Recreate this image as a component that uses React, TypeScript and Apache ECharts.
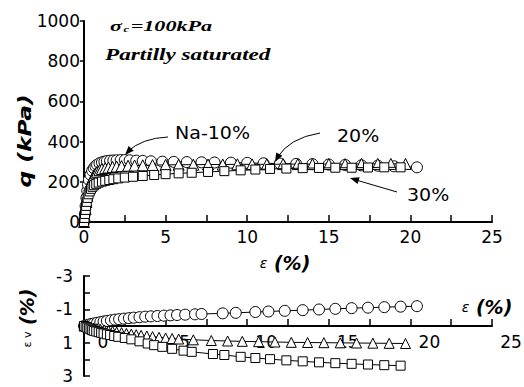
import React, { useEffect, useRef } from "react";
import * as echarts from "echarts";

// ---- Data: deviator stress q (kPa) vs axial strain ε (%) ----
const qNa10: number[][] = [
  [0, 0], [0.05, 40], [0.1, 80], [0.15, 120], [0.2, 155], [0.25, 185], [0.3, 210], [0.4, 235],
  [0.5, 255], [0.6, 268], [0.7, 278], [0.8, 285], [0.95, 292], [1.1, 297], [1.25, 300], [1.4, 303],
  [1.6, 305], [1.8, 306], [2.0, 307], [2.25, 308], [2.5, 308], [2.8, 307], [3.2, 305], [3.6, 304],
  [4.1, 302], [4.8, 300], [5.5, 299], [6.3, 298], [7.2, 297], [8.0, 296], [9.0, 295], [10.0, 294],
  [11.0, 292], [12.0, 291], [13.0, 289], [14.0, 288], [15.0, 286], [16.0, 284], [17.0, 282],
  [18.0, 280], [19.0, 277], [20.4, 272],
];
const q20: number[][] = [
  [0, 0], [0.05, 30], [0.1, 65], [0.15, 100], [0.2, 130], [0.3, 165], [0.4, 195], [0.5, 215],
  [0.6, 230], [0.7, 242], [0.8, 250], [0.95, 258], [1.1, 264], [1.3, 268], [1.5, 271], [1.75, 274],
  [2.0, 276], [2.3, 278], [2.7, 280], [3.1, 281], [3.6, 282], [4.2, 283], [5.0, 284], [5.8, 285],
  [6.7, 285], [7.6, 286], [8.5, 286], [9.4, 287], [10.3, 287], [11.2, 287], [12.2, 288], [13.1, 288],
  [14.0, 288], [15.0, 288], [16.0, 288], [17.0, 289], [18.0, 289], [18.8, 289], [19.7, 289],
];
const q30: number[][] = [
  [0, 0], [0.03, 20], [0.06, 40], [0.1, 60], [0.13, 80], [0.17, 100], [0.22, 120], [0.28, 138],
  [0.35, 152], [0.43, 165], [0.52, 175], [0.62, 183], [0.75, 190], [0.9, 196], [1.1, 201], [1.3, 205],
  [1.55, 209], [1.8, 213], [2.1, 217], [2.5, 221], [3.0, 225], [3.6, 229], [4.3, 234], [5.0, 238],
  [5.8, 242], [6.6, 245], [7.6, 249], [8.6, 253], [9.6, 257], [10.5, 261], [11.4, 264], [12.4, 266],
  [13.4, 268], [14.4, 269], [15.4, 270], [16.4, 270], [17.4, 271], [18.4, 272], [19.4, 272],
];

// ---- Data: volumetric strain εv (%) vs axial strain ε (%) ----
const evNa10: number[][] = [
  [0, 0], [0.15, -0.04], [0.3, -0.08], [0.45, -0.12], [0.6, -0.15], [0.8, -0.19], [1.0, -0.23],
  [1.2, -0.27], [1.4, -0.3], [1.65, -0.34], [1.9, -0.38], [2.15, -0.41], [2.45, -0.44], [2.75, -0.47],
  [3.05, -0.5], [3.4, -0.53], [3.75, -0.56], [4.1, -0.58], [4.5, -0.6], [4.9, -0.62], [5.3, -0.64],
  [5.7, -0.66], [6.2, -0.68], [6.8, -0.7], [7.2, -0.72], [8.5, -0.76], [9.3, -0.79], [10.5, -0.84],
  [11.3, -0.87], [12.3, -0.91], [13.4, -0.95], [14.4, -0.99], [15.4, -1.03], [16.4, -1.07],
  [17.4, -1.1], [18.4, -1.13], [19.4, -1.16], [20.4, -1.19],
];
const ev20: number[][] = [
  [0, 0], [0.2, 0.04], [0.4, 0.08], [0.6, 0.12], [0.8, 0.16], [1.0, 0.2], [1.25, 0.24], [1.5, 0.28],
  [1.75, 0.32], [2.0, 0.36], [2.3, 0.4], [2.6, 0.44], [2.9, 0.48], [3.2, 0.52], [3.5, 0.56],
  [3.85, 0.6], [4.2, 0.64], [4.6, 0.68], [5.0, 0.72], [5.4, 0.75], [5.8, 0.78], [6.7, 0.83],
  [7.8, 0.87], [8.8, 0.9], [9.7, 0.92], [10.7, 0.94], [11.7, 0.96], [12.7, 0.98], [13.7, 0.99],
  [14.7, 1.0], [15.7, 1.01], [16.7, 1.02], [17.7, 1.03], [18.7, 1.04], [19.7, 1.05],
];
const ev30: number[][] = [
  [0, 0], [0.1, 0.05], [0.2, 0.1], [0.3, 0.15], [0.4, 0.2], [0.5, 0.25], [0.6, 0.29], [0.75, 0.33],
  [0.9, 0.37], [1.05, 0.41], [1.2, 0.45], [1.4, 0.5], [1.6, 0.54], [1.85, 0.6], [2.1, 0.65],
  [2.5, 0.72], [2.9, 0.8], [3.4, 0.92], [3.9, 1.05], [4.3, 1.15], [4.8, 1.25], [5.4, 1.37],
  [6.1, 1.48], [6.6, 1.55], [7.9, 1.68], [8.6, 1.74], [9.6, 1.85], [10.5, 1.92], [11.4, 1.99],
  [12.4, 2.06], [13.4, 2.12], [14.4, 2.18], [15.4, 2.23], [16.4, 2.27], [17.4, 2.31], [18.4, 2.35],
  [19.4, 2.38],
];

const seriesNames = ["Na-10%", "20%", "30%"];
const qTicks = [0, 200, 400, 600, 800, 1000];
const evTickLabels = [-3, -1, 1, 3];

const SANS = "DejaVu Sans, Arial, sans-serif";
const SERIF = "Liberation Serif, Times New Roman, serif";

function arrowHead(tx: number, ty: number, fx: number, fy: number, len = 9, half = 3.5) {
  const dx = tx - fx;
  const dy = ty - fy;
  const d = Math.sqrt(dx * dx + dy * dy);
  const ux = dx / d;
  const uy = dy / d;
  const bx = tx - ux * len;
  const by = ty - uy * len;
  return {
    type: "polygon",
    shape: { points: [[tx, ty], [bx - uy * half, by + ux * half], [bx + uy * half, by - ux * half]] },
    style: { fill: "#000" },
    silent: true,
  };
}

export default function App() {
  const ref = useRef<HTMLDivElement>(null);

  useEffect(() => {
    if (!ref.current) return;
    const chart = echarts.init(ref.current, null, { renderer: "svg" });

    const marker = (symbol: string, size: number) => ({
      symbol,
      symbolSize: size,
      showSymbol: true,
      lineStyle: { color: "#000", width: 1 },
      itemStyle: { color: "#fff", borderColor: "#000", borderWidth: 1 },
    });

    const axisLine = { show: true, lineStyle: { color: "#000", width: 2 } };
    const labelFont = { fontFamily: SANS, fontSize: 17, color: "#000" };
    const annot = (text: string, x: number, y: number) => ({
      type: "text", x, y, scaleX: 1.12, silent: true,
      style: { text, fontFamily: SANS, fontSize: 17, fill: "#000", align: "left", verticalAlign: "middle" },
    });
    const epsTitle = (x: number, y: number) => ({
      type: "text", x, y, silent: true,
      style: {
        text: "{s|ε}  {b|(%)}",
        fill: "#000", align: "center", verticalAlign: "middle",
        rich: {
          s: { fontFamily: SANS, fontSize: 14, fontStyle: "italic", fill: "#000" },
          b: { fontFamily: SANS, fontSize: 19, fontWeight: "bold", fontStyle: "italic", fill: "#000" },
        },
      },
    });

    chart.setOption({
      animation: false,
      backgroundColor: "#fff",
      grid: [
        { left: 84, right: 32, top: 21, height: 201, containLabel: false, outerBoundsMode: "none" },
        { left: 84, right: 32, top: 276, height: 100, containLabel: false, outerBoundsMode: "none" },
      ],
      xAxis: [
        {
          type: "value", gridIndex: 0, min: 0, max: 25, interval: 2.5,
          axisLine,
          axisTick: { show: true, inside: true, length: 7, lineStyle: { color: "#000", width: 1.5 } },
          axisLabel: {
            ...labelFont, margin: 6,
            formatter: (v: number) => (v % 5 === 0 ? String(v) : ""),
          },
          splitLine: { show: false },
        },
        {
          // axis drawn at εv = 0 (50 px above the grid's bottom edge)
          type: "value", gridIndex: 1, min: 0, max: 25, interval: 2.5,
          position: "bottom", offset: -50,
          axisLine: { ...axisLine, onZero: false },
          axisTick: { show: true, inside: true, length: 7, lineStyle: { color: "#000", width: 1.5 } },
          axisLabel: {
            ...labelFont, margin: 7, padding: [0, 0, 0, 38],
            formatter: (v: number) => (v % 5 === 0 ? String(v) : ""),
          },
          splitLine: { show: false },
        },
      ],
      yAxis: [
        {
          type: "value", gridIndex: 0, min: 0, max: 1000, interval: 200,
          axisLine,
          axisTick: { show: true, inside: false, length: 4, lineStyle: { color: "#000", width: 1.5 } },
          axisLabel: {
            ...labelFont, margin: 4,
            formatter: (v: number) => (qTicks.includes(v) ? String(v) : ""),
          },
          splitLine: { show: false },
        },
        {
          type: "value", gridIndex: 1, min: -3, max: 3, interval: 1, inverse: true,
          axisLine,
          axisTick: { show: true, inside: true, length: 6, lineStyle: { color: "#000", width: 1.5 } },
          axisLabel: {
            ...labelFont, margin: 11,
            formatter: (v: number) => (evTickLabels.includes(v) ? String(v) : ""),
          },
          splitLine: { show: false },
        },
      ],
      series: [
        { name: seriesNames[0], type: "line", xAxisIndex: 0, yAxisIndex: 0, data: qNa10, ...marker("circle", 11), z: 2 },
        { name: seriesNames[1], type: "line", xAxisIndex: 0, yAxisIndex: 0, data: q20, ...marker("triangle", 11), z: 3 },
        { name: seriesNames[2], type: "line", xAxisIndex: 0, yAxisIndex: 0, data: q30, ...marker("rect", 9), z: 4 },
        { name: seriesNames[0], type: "line", xAxisIndex: 1, yAxisIndex: 1, data: evNa10, ...marker("circle", 11), z: 2 },
        { name: seriesNames[1], type: "line", xAxisIndex: 1, yAxisIndex: 1, data: ev20, ...marker("triangle", 10), z: 3 },
        { name: seriesNames[2], type: "line", xAxisIndex: 1, yAxisIndex: 1, data: ev30, ...marker("rect", 9), z: 4 },
      ],
      graphic: [
        // y-axis title (top)
        {
          type: "text", x: 25, y: 141, rotation: Math.PI / 2, scaleX: 1.3, silent: true,
          style: {
            text: "q (kPa)", fontFamily: SANS, fontSize: 18, fontWeight: "bold", fontStyle: "italic",
            fill: "#000", align: "center", verticalAlign: "middle",
          },
        },
        // y-axis title (bottom)
        {
          type: "text", x: 27, y: 318, rotation: Math.PI / 2, silent: true,
          style: {
            text: "{s|ε v}  {b|(%)}",
            fill: "#000", align: "center", verticalAlign: "middle",
            rich: {
              s: { fontFamily: SANS, fontSize: 11, fill: "#000" },
              b: { fontFamily: SANS, fontSize: 19, fontWeight: "bold", fontStyle: "italic", fill: "#000" },
            },
          },
        },
        epsTitle(285, 263),
        epsTitle(487, 307),
        // condition labels
        {
          type: "text", x: 110, y: 26, scaleX: 1.58, silent: true,
          style: {
            text: "{a|σ}{c|c}{a|=100kPa}",
            fill: "#000", align: "left", verticalAlign: "middle",
            rich: {
              a: { fontFamily: SERIF, fontSize: 14, fontWeight: "bold", fontStyle: "italic", fill: "#000" },
              c: { fontFamily: SERIF, fontSize: 8, fontWeight: "bold", fontStyle: "italic", fill: "#000", verticalAlign: "bottom", padding: [5, 1, 0, 1] },
            },
          },
        },
        {
          type: "text", x: 105, y: 54, scaleX: 1.45, silent: true,
          style: {
            text: "Partilly saturated", fontFamily: SERIF, fontSize: 16, fontWeight: "bold",
            fontStyle: "italic", fill: "#000", align: "left", verticalAlign: "middle",
          },
        },
        // series annotations
        annot(seriesNames[0], 175, 133),
        annot(seriesNames[1], 337, 136),
        annot(seriesNames[2], 407, 195),
        // arrows
        {
          type: "bezierCurve", silent: true, z: 10,
          shape: { x1: 168, y1: 137, cpx1: 142, cpy1: 138, x2: 127, y2: 152 },
          style: { stroke: "#000", lineWidth: 1, fill: "none" },
        },
        { ...arrowHead(125, 155, 140, 139), z: 10 },
        {
          type: "bezierCurve", silent: true, z: 10,
          shape: { x1: 320, y1: 133, cpx1: 289, cpy1: 138, x2: 277, y2: 158 },
          style: { stroke: "#000", lineWidth: 1, fill: "none" },
        },
        { ...arrowHead(275, 162, 287, 140), z: 10 },
        {
          type: "line", silent: true, z: 10,
          shape: { x1: 397, y1: 192, x2: 356, y2: 180 },
          style: { stroke: "#000", lineWidth: 1 },
        },
        { ...arrowHead(350, 178, 397, 192), z: 10 },
      ],
    });

    return () => chart.dispose();
  }, []);

  return <div ref={ref} style={{ position: "absolute", left: 0, top: 0, width: 524, height: 387 }} />;
}
